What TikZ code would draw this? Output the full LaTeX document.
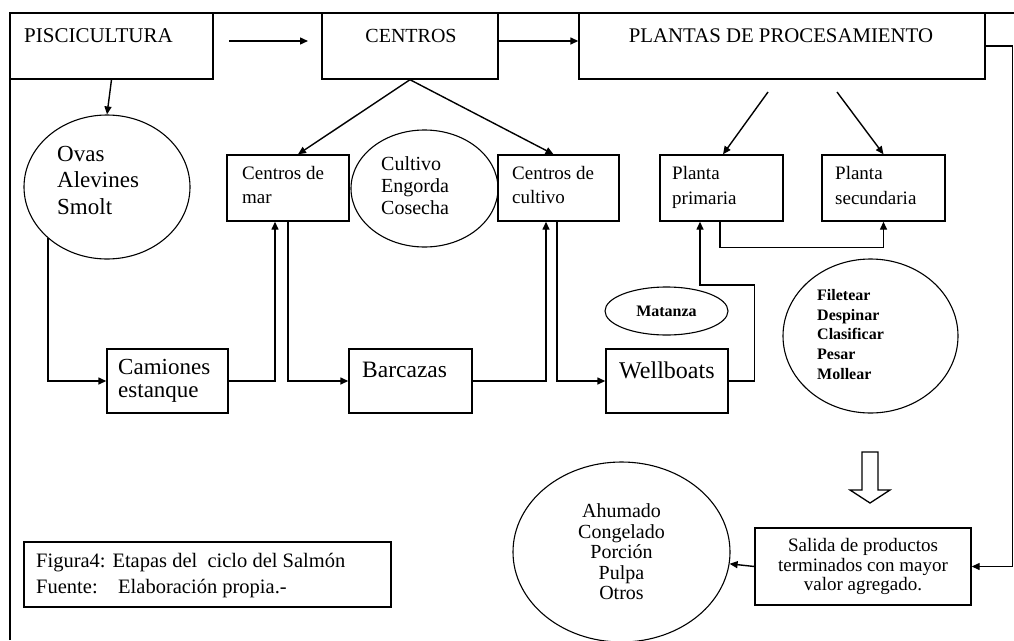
\documentclass[tikz,border=0pt]{standalone}
\usepackage{fontspec}
\setmainfont{Liberation Serif}
\usetikzlibrary{arrows.meta,shapes.geometric}
\newcommand\fsz[2]{\fontsize{#1}{#2}\selectfont}
\begin{document}
\begin{tikzpicture}[x=1pt,y=-1pt,
  box/.style={draw,line width=1.4pt,rectangle,inner sep=0pt},
  oval/.style={draw,line width=1.1pt,ellipse,inner sep=0pt},
  txt/.style={inner sep=0pt,anchor=north west,align=left},
  arr/.style={line width=1.4pt,-{Triangle[length=8pt,width=7pt]}},
  ln/.style={line width=1.4pt},
  frame/.style={line width=2.4pt}]
\useasboundingbox (0,0) rectangle (1014,640);

% top row boxes
\node[box,minimum width=203pt,minimum height=66pt] (pisc) at (111.5,46) {};
\node[box,minimum width=176pt,minimum height=66pt] (cent) at (410,46) {};
\node[box,minimum width=406pt,minimum height=66pt] (plan) at (782,46) {};
\draw[frame] (10,640) -- (10,13) -- (1014,13);

\node[inner sep=0pt,anchor=base west,font=\fsz{21}{24}] (pisct) at (24,42) {PISCICULTURA};
\node[inner sep=0pt,anchor=base,font=\fsz{20}{24}] (centt) at (411,42) {CENTROS};
\node[inner sep=0pt,anchor=base,font=\fsz{20.8}{24}] (plant) at (781,42) {PLANTAS DE PROCESAMIENTO};

\coordinate (a1s) at (229,41);
\coordinate (a1e) at (308,41);
\draw[arr] (a1s) -- (a1e);
\draw[arr] ([yshift=5pt]cent.east) -- ([yshift=5pt]plan.west);

% second row
\node[oval,minimum width=166pt,minimum height=144pt] (ovas) at (107,187) {};
\node[txt,font=\fsz{23}{26.5}] (ovast) at (57,146) {Ovas\\Alevines\\Smolt};

\node[box,minimum width=122pt,minimum height=66pt] (mar) at (288,188) {};
\node[txt,font=\fsz{19}{24}] (mart) at (242,166) {Centros de\\mar};

\node[oval,minimum width=147pt,minimum height=117pt] (cult) at (424.5,188.5) {};
\node[txt,font=\fsz{20}{22}] (cultt) at (381,156) {Cultivo\\Engorda\\Cosecha};

\node[box,minimum width=121pt,minimum height=66pt] (cbox) at (558.5,188) {};
\node[txt,font=\fsz{19}{24}] (cboxt) at (512,166) {Centros de\\cultivo};

\node[box,minimum width=123pt,minimum height=66pt] (prim) at (721.5,188) {};
\node[txt,font=\fsz{19}{25}] (primt) at (672,166) {Planta\\primaria};

\node[box,minimum width=123pt,minimum height=66pt] (sec) at (883.5,188) {};
\node[txt,font=\fsz{19}{25}] (sect) at (835,166) {Planta\\secundaria};

\draw[arr] (pisc.south) -- (ovas.north);
\draw[arr] (cent.south) -- ([xshift=10pt]mar.north);
\draw[arr] (cent.south) -- ([xshift=-5pt]cbox.north);
\coordinate (p1) at (768,92);
\coordinate (p2) at (837,92);
\draw[arr] (p1) -- ([xshift=1.5pt]prim.north);
\draw[arr] (p2) -- (sec.north);

% third row
\node[box,minimum width=121pt,minimum height=64pt] (cam) at (167.5,381) {};
\node[txt,font=\fsz{23}{23.5}] (camt) at (118,359) {Camiones\\estanque};

\node[box,minimum width=123pt,minimum height=64pt] (bar) at (410.5,381) {};
\node[inner sep=0pt,anchor=base west,font=\fsz{23.5}{24}] (bart) at (362,377) {Barcazas};

\node[box,minimum width=122pt,minimum height=64pt] (well) at (667,381) {};
\node[inner sep=0pt,anchor=base west,font=\fsz{24}{24}] (wellt) at (619,378) {Wellboats};

\node[oval,minimum width=123pt,minimum height=48pt,font=\bfseries\fsz{16}{18}] (mat) at (666.5,311) {Matanza};

\node[oval,minimum width=175pt,minimum height=154pt] (fil) at (870.5,336) {};
\node[txt,font=\bfseries\fsz{16}{19.8}] (filt) at (817,289) {Filetear\\Despinar\\Clasificar\\Pesar\\Mollear};

\draw[arr] (ovas.south west) |- (cam.west);
\draw[arr] (cam.east) -| ([xshift=-13pt]mar.south);
\draw[arr] (mar.south) |- (bar.west);
\draw[arr] (bar.east) -| ([xshift=-12.5pt]cbox.south);
\draw[arr] ([xshift=-1.5pt]cbox.south) |- (well.west);
\draw[arr] (well.east) -- ++(26,0) -- ++(0,-96) -| ([xshift=-21.5pt]prim.south);
\draw[arr] ([xshift=-1.5pt]prim.south) -- ++(0,26) -| (sec.south);

% bottom
\draw[line width=1.3pt] (862,452) -- (878,452) -- (878,490) -- (890,490) -- (870,503) -- (850,490) -- (862,490) -- cycle;

\node[box,minimum width=216pt,minimum height=77pt,align=center,font=\fsz{19}{19.5}] (sal) at (863,566.5) {Salida de productos\\terminados con mayor\\valor agregado.};

\node[oval,minimum width=217pt,minimum height=180pt,align=center,font=\fsz{20}{20.5}] (ahu) at (621.5,552) {Ahumado\\Congelado\\Porción\\Pulpa\\Otros};

\draw[arr] (sal.west) -- (ahu);
\draw[arr] (plan.east) -- ++(27,0) |- (sal.east);

\node[box,minimum width=367pt,minimum height=65pt] (fig) at (207.5,574.5) {};
\node[txt,font=\fsz{20.5}{26.5}] (figt) at (36,553) {Figura4: Etapas del\ \ ciclo del Salmón\\Fuente:\ \ \ \ Elaboración propia.-};
\end{tikzpicture}
\end{document}
